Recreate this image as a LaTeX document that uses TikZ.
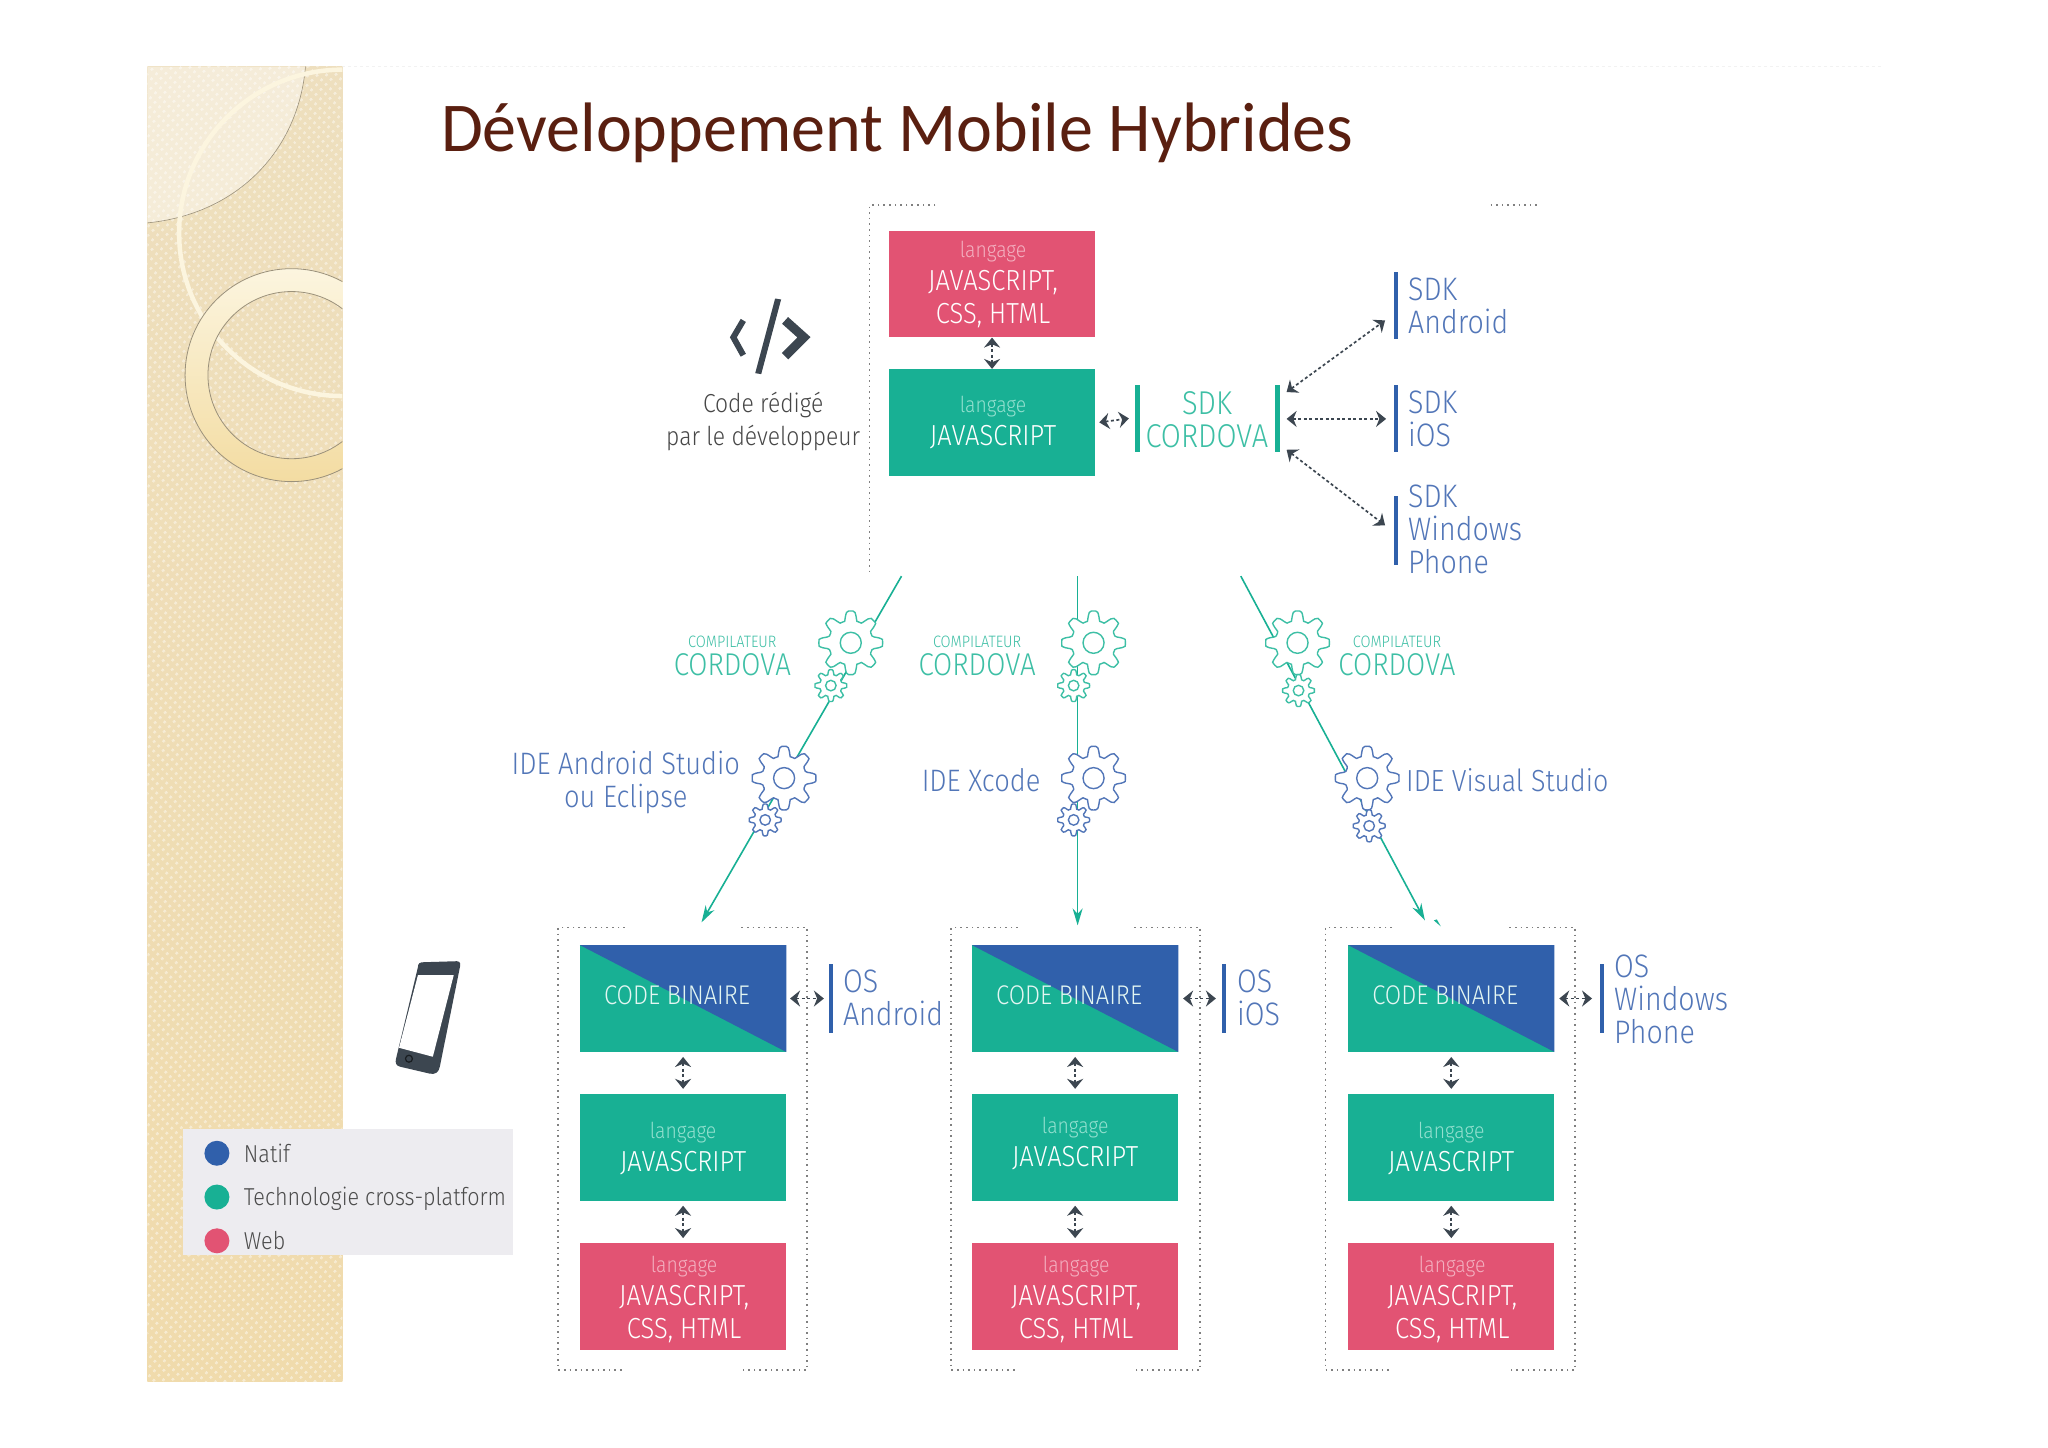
\documentclass[tikz,border=0pt]{standalone}
\usepackage{fontspec}
\usetikzlibrary{arrows.meta,patterns.meta}
\setmainfont{Carlito}
\newfontfamily\titlef[FakeStretch=.972]{Carlito}
\newfontfamily\lt[UprightFont=* Light,FakeStretch=.88]{Fira Sans}
\definecolor{cgreen}{HTML}{18B094}
\definecolor{cblue}{HTML}{3060AB}
\definecolor{cpink}{HTML}{E25373}
\definecolor{cdark}{HTML}{3C4650}
\definecolor{ctitle}{HTML}{5A1F10}
\definecolor{ltgreen}{HTML}{3DBFA5}
\definecolor{ltblue}{HTML}{5276B8}
\definecolor{pkl}{HTML}{F3B0C0}
\definecolor{grl}{HTML}{93E0CF}
\definecolor{F1}{HTML}{EEDFBE}
\definecolor{F2}{HTML}{F0DBAC}
\definecolor{F3}{HTML}{FCF5DF}
\definecolor{F4}{HTML}{F3DCA2}
\definecolor{legbg}{HTML}{EDECF0}
\tikzset{
  declare function={gearr(\t)=0.85+0.15*max(-1,min(1,1.7*cos(8*\t)));},
  colorbox/.style={rectangle,draw=none,inner sep=0pt,minimum width=206pt,minimum height=106.5pt},
  pinkbox/.style={colorbox,fill=cpink},
  greenbox/.style={colorbox,fill=cgreen},
  boxtext/.style={text=white,align=center,inner sep=0pt,font=\lt\fontsize{29}{33}\selectfont},
  vbar/.style={rectangle,draw=none,inner sep=0pt,minimum width=4.5pt,minimum height=#1},
  vbar/.default=67pt,
  biglabel/.style={inner sep=0pt,align=left,anchor=west,font=\lt\fontsize{32.5}{33}\selectfont},
  dbl/.style={{Stealth[length=10pt,width=16pt]}-{Stealth[length=10pt,width=16pt]},cdark,line width=1.7pt,dash pattern=on 3pt off 2.5pt},
  flow/.style={-{Stealth[length=17pt,width=10pt]},cgreen,line width=1.6pt},
  frameline/.style={draw=black!50,line width=1.6pt,dash pattern=on 1.6pt off 4pt},
  legendtext/.style={inner sep=0pt,anchor=west,text=black!70,font=\lt\fontsize{24.5}{28}\selectfont},
  legenddot/.style={circle,inner sep=0pt,minimum size=25pt,draw=none},
}
\newcommand\gearn[5]{%
  \coordinate (#1) at (#2,#3);
  \filldraw[#5,fill=white,line width=1.4pt] plot[smooth cycle,domain=0:356,samples=90] ({#2+#4*gearr(\x)*cos(\x+90)},{#3+#4*gearr(\x)*sin(\x+90)});
  \draw[#5,line width=1.4pt] (#1) circle ({#4*0.33});
}
\newcommand\panel[8]{%
  % #1 id, #2 box centre x, #3 frame left, #4 frame right, #5 bar x, #6 arrow left, #7 arrow right, #8 js text dy
  \node[greenbox] (bin#1) at (#2,1003.5) {};
  \fill[cblue] (bin#1.north west) -- (bin#1.north east) -- (bin#1.south east) -- cycle;
  \node[boxtext,text=white!88!cgreen,font=\lt\fontsize{27}{28}\selectfont] (bint#1) at ({#2-6},1000.5) {CODE BINAIRE};
  \node[greenbox] (js#1) at (#2,1153) {};
  \node[boxtext] (jst#1) at (#2,{1155+#8}) {{\color{grl}\fontsize{22}{22}\selectfont langage}\\JAVASCRIPT};
  \node[pinkbox] (web#1) at (#2,1303) {};
  \node[boxtext] (webt#1) at ({#2+1},1306) {{\color{pkl}\fontsize{22}{22}\selectfont langage}\\JAVASCRIPT,\\CSS, HTML};
  \draw[dbl,shorten >=5pt,shorten <=5pt] (bin#1.south) -- (js#1.north);
  \draw[dbl,shorten >=5pt,shorten <=5pt] (js#1.south) -- (web#1.north);
  \draw[frameline] ({#3+67},932) -- (#3,932) -- (#3,1377) -- ({#3+67},1377);
  \draw[frameline] ({#4-66},932) -- (#4,932) -- (#4,1377) -- ({#4-66},1377);
  \node[vbar=69pt,fill=cblue] (osb#1) at (#5,1003.5) {};
  \coordinate (osl#1) at (#6,1003.5);
  \coordinate (osr#1) at (#7,1003.5);
  \draw[dbl] (osl#1) -- (osr#1);
}
\begin{document}
\begin{tikzpicture}[x=.995pt,y=-.995pt]
\useasboundingbox (0,0) rectangle ({2048/.995},{1447/.995});
\fill[white] (0,0) rectangle ({2048/.995},{1447/.995});
% faint slide edge
\draw[black!5,line width=1pt,dash pattern=on 3pt off 3pt] (344,67) -- (1890,67);
% side band
\begin{scope}
  \clip (148,67) rectangle (344,1388);
  \fill[top color=F1,bottom color=F2] (148,67) rectangle (344,1388);
  \fill[pattern={Dots[radius=1.6pt,distance=6.5pt,angle=45]},pattern color=white,fill opacity=.45] (148,67) rectangle (344,1388);
  \fill[white,fill opacity=.42] (148,67) -- (307,67) .. controls (300,150) and (240,215) .. (148,224) -- cycle;
  \draw[black!35!F1,line width=.6pt] (307,67) .. controls (300,150) and (240,215) .. (148,224);
  \draw[F3,line width=4.5pt] (344,70) arc[start angle=-90,end angle=-270,radius=164];
  \shade[even odd rule,top color=F3,bottom color=F4,draw=black!35!F1,line width=.8pt] (293,377) circle (107) (293,377) circle (84);
\end{scope}
% title
\node[inner sep=0pt,anchor=base west,text=ctitle,font=\titlef\fontsize{70}{80}\selectfont] (title) at (443,152) {Développement Mobile Hybrides};
% top frame
\draw[frameline] (940,206) -- (874,206) -- (874,578);
\draw[frameline] (1498,206) -- (1546,206);
% top boxes
\node[pinkbox] (topweb) at (997,285.5) {};
\node[boxtext] (topwebt) at (998,286) {{\color{pkl}\fontsize{22}{22}\selectfont langage}\\JAVASCRIPT,\\CSS, HTML};
\node[greenbox] (topjs) at (997,424.5) {};
\node[boxtext] (topjst) at (998,425) {{\color{grl}\fontsize{22}{22}\selectfont langage}\\JAVASCRIPT};
\draw[dbl] (topweb.south) -- (topjs.north);
% SDK Cordova
\node[vbar,fill=cgreen] (cbl) at (1143,420.5) {};
\node[vbar,fill=cgreen] (cbr) at (1284,420.5) {};
\node[inner sep=0pt,align=center,text=ltgreen,font=\lt\fontsize{33}{33}\selectfont] (sdkc) at (1213,422) {SDK\\CORDOVA};
\draw[dbl] ([xshift=4pt]topjs.east) -- ([xshift=-6pt]cbl.west);
% SDK targets
\node[vbar,fill=cblue] (bara) at (1403,307.5) {};
\node[vbar,fill=cblue] (bari) at (1403,420.5) {};
\node[vbar=69pt,fill=cblue] (barw) at (1403,533.5) {};
\node[biglabel,text=ltblue] (sdka) at (1415,307.5) {SDK\\Android};
\node[biglabel,text=ltblue] (sdki) at (1415,420.5) {SDK\\iOS};
\node[biglabel,text=ltblue] (sdkw) at (1415,531.5) {SDK\\Windows\\Phone};
\coordinate (cu) at (1293,394); \coordinate (cm) at (1293,421); \coordinate (cd) at (1293,452);
\coordinate (au) at (1392,322); \coordinate (am) at (1393,421); \coordinate (ad) at (1392,528);
\draw[dbl] (cu) -- (au);
\draw[dbl] (cm) -- (am);
\draw[dbl] (cd) -- (ad);
% code icon
\fill[cdark] (779,300) -- (785,301) -- (765,376) -- (759,375) -- cycle;
\draw[cdark,line width=6pt,miter limit=4] (747,322) -- (737,339) -- (747,357);
\draw[cdark,line width=9pt,miter limit=4] (789,322) -- (808,339) -- (789,358);
\node[inner sep=0pt,align=center,text=black!72,font=\lt\fontsize{26}{33}\selectfont] (codet) at (767,424) {Code rédigé\\par le développeur};
% flow lines
\coordinate (l0) at (906,579); \coordinate (l1) at (705,927);
\coordinate (m0) at (1083,579); \coordinate (m1) at (1083,930);
\coordinate (r0) at (1247,579); \coordinate (r1) at (1432,925);
\draw[flow] (l0) -- (l1);
\draw[flow] (m0) -- (m1);
\draw[flow] (r0) -- (r1);
\fill[cgreen] (1441,925) -- (1444,924) -- (1448,931) -- cycle;
% gears
\gearn{g1}{855}{646}{32}{ltgreen}
\gearn{g1s}{835}{689}{16}{ltgreen}
\gearn{b1}{788}{782}{32}{ltblue}
\gearn{b1s}{769}{824}{16}{ltblue}
\gearn{g2}{1099}{646}{32}{ltgreen}
\gearn{g2s}{1079}{689}{16}{ltgreen}
\gearn{b2}{1099}{782}{32}{ltblue}
\gearn{b2s}{1079}{824}{16}{ltblue}
\gearn{g3}{1304}{646}{32}{ltgreen}
\gearn{g3s}{1305}{694}{16}{ltgreen}
\gearn{b3}{1374}{782}{32}{ltblue}
\gearn{b3s}{1376}{830}{16}{ltblue}
% gear labels
\foreach \n/\cx in {c1/736,c2/982,c3/1404}{
  \node[inner sep=0pt,text=ltgreen,font=\lt\fontsize{16.5}{17}\selectfont] (\n a) at (\cx,645) {COMPILATEUR};
  \node[inner sep=0pt,text=ltgreen,font=\lt\fontsize{31.5}{33}\selectfont] (\n b) at (\cx,668) {CORDOVA};
}
\node[inner sep=0pt,align=center,text=ltblue,font=\lt\fontsize{31}{33}\selectfont] (ide1) at (629,786) {IDE Android Studio\\ou Eclipse};
\node[inner sep=0pt,text=ltblue,font=\lt\fontsize{31}{33}\selectfont] (ide2) at (986,784) {IDE Xcode};
\node[inner sep=0pt,anchor=west,text=ltblue,font=\lt\fontsize{30.5}{33}\selectfont] (ide3) at (1413,784) {IDE Visual Studio};
% panels
\panel{a}{686.5}{561}{811}{835}{794}{828}{-1}
\panel{b}{1080.5}{956}{1206}{1230}{1189}{1222}{-6}
\panel{c}{1458.5}{1332}{1583}{1610}{1567}{1600}{-1}
\node[biglabel,text=ltblue] (osa) at (847,1003) {OS\\Android};
\node[biglabel,text=ltblue] (osi) at (1243,1003) {OS\\iOS};
\node[biglabel,text=ltblue] (osw) at (1622,1004) {OS\\Windows\\Phone};
% phone
\fill[cdark] (420,972) .. controls (420,968) and (422,967) .. (426,967) -- (459,966) .. controls (463,966) and (463,969) .. (462,973) -- (442,1072) .. controls (441,1078) and (437,1080) .. (432,1079) -- (402,1072) .. controls (398,1071) and (397,1068) .. (398,1064) -- cycle;
\fill[white] (420,980) -- (456,980) -- (435,1062) -- (401,1053) -- cycle;
\draw[black!60!cdark,line width=1.2pt] (411,1064) circle (3.5);
% legend
\fill[legbg] (184,1135) rectangle (516,1261);
\node[legenddot,fill=cblue] (ld1) at (218,1159) {};
\node[legenddot,fill=cgreen] (ld2) at (218,1203) {};
\node[legenddot,fill=cpink] (ld3) at (218,1247) {};
\node[legendtext] (lt1) at (245,1159) {Natif};
\node[legendtext] (lt2) at (245,1205) {Technologie cross-platform};
\node[legendtext] (lt3) at (245,1247) {Web};
\end{tikzpicture}
\end{document}
